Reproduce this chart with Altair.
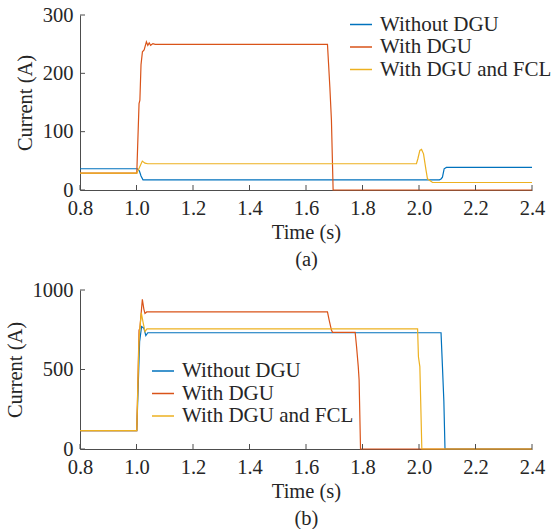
import altair as alt
import pandas as pd

SERIES = ["Without DGU", "With DGU", "With DGU and FCL"]
COLORS = ["#0072BD", "#D95319", "#EDB120"]

# ---- panel (a) ----
a_blue_t = [0.8, 1.003, 1.010, 1.016, 1.023, 2.072, 2.078, 2.083, 2.089, 2.097, 2.4]
a_blue_v = [36.4, 36.4, 33.0, 24.0, 17.5, 17.5, 19.0, 22.0, 36.4, 38.7, 38.7]

a_red_t = [0.8, 1.001, 1.009, 1.012, 1.016, 1.021, 1.027, 1.035, 1.040, 1.045, 1.050, 1.058, 1.066, 1.676, 1.680, 1.6845, 1.690, 1.696, 2.4]
a_red_v = [28.9, 28.9, 148.0, 154.0, 215.0, 237.0, 240.0, 254.0, 248.0, 252.0, 248.0, 251.0, 249.6, 249.6, 215.0, 175.6, 120.0, 0.0, 0.0]

a_yel_t = [0.8, 1.001, 1.010, 1.0206, 1.030, 1.040, 1.991, 1.996, 2.003, 2.009, 2.016, 2.025, 2.030, 2.048, 2.4]
a_yel_v = [28.9, 28.9, 38.0, 49.5, 46.0, 45.0, 45.0, 53.6, 67.9, 69.6, 62.0, 33.5, 19.2, 12.9, 12.9]

# ---- panel (b) ----
b_blue_t = [0.8, 1.001, 1.011, 1.018, 1.026, 1.033, 1.040, 2.078, 2.083, 2.088, 2.092, 2.4]
b_blue_v = [115, 115, 675, 770, 760, 713, 731, 731, 518, 300, 0, 0]

b_red_t = [0.8, 1.001, 1.009, 1.012, 1.0207, 1.026, 1.030, 1.036, 1.676, 1.682, 1.690, 1.694, 1.774, 1.779, 1.785, 1.788, 1.793, 2.4]
b_red_v = [115, 115, 748, 760, 941, 880, 853, 862, 862, 811, 748, 734, 734, 643, 518, 434, 0, 0]

b_yel_t = [0.8, 1.001, 1.009, 1.017, 1.024, 1.030, 1.037, 1.995, 1.998, 2.003, 2.006, 2.010, 2.4]
b_yel_v = [115, 115, 700, 857, 790, 738, 755, 755, 580, 518, 300, 0, 0]

x_ticks = [0.8, 1.0, 1.2, 1.4, 1.6, 1.8, 2.0, 2.2, 2.4]
a_y_ticks = [0, 100, 200, 300]
b_y_ticks = [0, 500, 1000]

FONT = "Liberation Serif"
AX = "#4d4d4d"
TXT = "#262626"
FS = 20.5


def make_df(ts, vs):
    rows = []
    for name, t, v in zip(SERIES, ts, vs):
        for i, (tt, vv) in enumerate(zip(t, v)):
            rows.append({"t": tt, "v": vv, "series": name, "idx": i})
    return pd.DataFrame(rows)


def panel(df, yticks, ymax, w, h, caption, lx, ly):
    xs = alt.Scale(domain=[0.8, 2.4], nice=False, zero=False)
    ys = alt.Scale(domain=[0, ymax], nice=False)
    common = dict(ticks=False, tickSize=0, grid=False, labelFlush=False,
                  labelFont=FONT, titleFont=FONT, labelFontSize=FS,
                  titleFontSize=FS, titleFontWeight="normal",
                  labelColor=TXT, titleColor=TXT, domainColor=AX, domainWidth=1)
    lines = alt.Chart(df).mark_line(strokeWidth=1.2).encode(
        x=alt.X("t:Q", scale=xs,
                axis=alt.Axis(values=x_ticks, format=".1f", labelPadding=8.5,
                              title=["Time (s)", caption], titlePadding=3,
                              titleLineHeight=27, **common)),
        y=alt.Y("v:Q", scale=ys,
                axis=alt.Axis(values=yticks, format="d", labelPadding=7,
                              title="Current (A)", titlePadding=7, **common)),
        color=alt.Color("series:N",
                        scale=alt.Scale(domain=SERIES, range=COLORS),
                        legend=alt.Legend(orient="none", legendX=lx, legendY=ly,
                                          title=None, symbolType="stroke",
                                          symbolSize=484, symbolStrokeWidth=1.5,
                                          labelFont=FONT, labelFontSize=21,
                                          labelColor=TXT, labelOffset=7,
                                          labelLimit=400,
                                          rowPadding=0.5, padding=0)),
        order="idx:Q",
    )
    xt = alt.Chart(pd.DataFrame({"t": x_ticks})).mark_rule(color=AX, strokeWidth=1).encode(
        x=alt.X("t:Q", scale=xs), y=alt.value(h), y2=alt.value(h - 5))
    yt = alt.Chart(pd.DataFrame({"v": yticks})).mark_rule(color=AX, strokeWidth=1).encode(
        y=alt.Y("v:Q", scale=ys), x=alt.value(0), x2=alt.value(5))
    return alt.layer(lines, xt, yt).properties(width=w, height=h)


pa = panel(make_df([a_blue_t, a_red_t, a_yel_t], [a_blue_v, a_red_v, a_yel_v]),
           a_y_ticks, 300, 452, 175, "(a)", 269, -2.5)
pb = panel(make_df([b_blue_t, b_red_t, b_yel_t], [b_blue_v, b_red_v, b_yel_v]),
           b_y_ticks, 1000, 452, 159, "(b)", 71, 69)

chart = alt.vconcat(pa, pb, spacing=10).resolve_scale(color="independent").resolve_legend(
    color="independent"
).properties(
    padding={"left": 5, "top": 5, "right": 0, "bottom": 0}
).configure(background="white").configure_view(stroke=None)

chart.save("out.html", embed_options={"renderer": "svg", "actions": False})
